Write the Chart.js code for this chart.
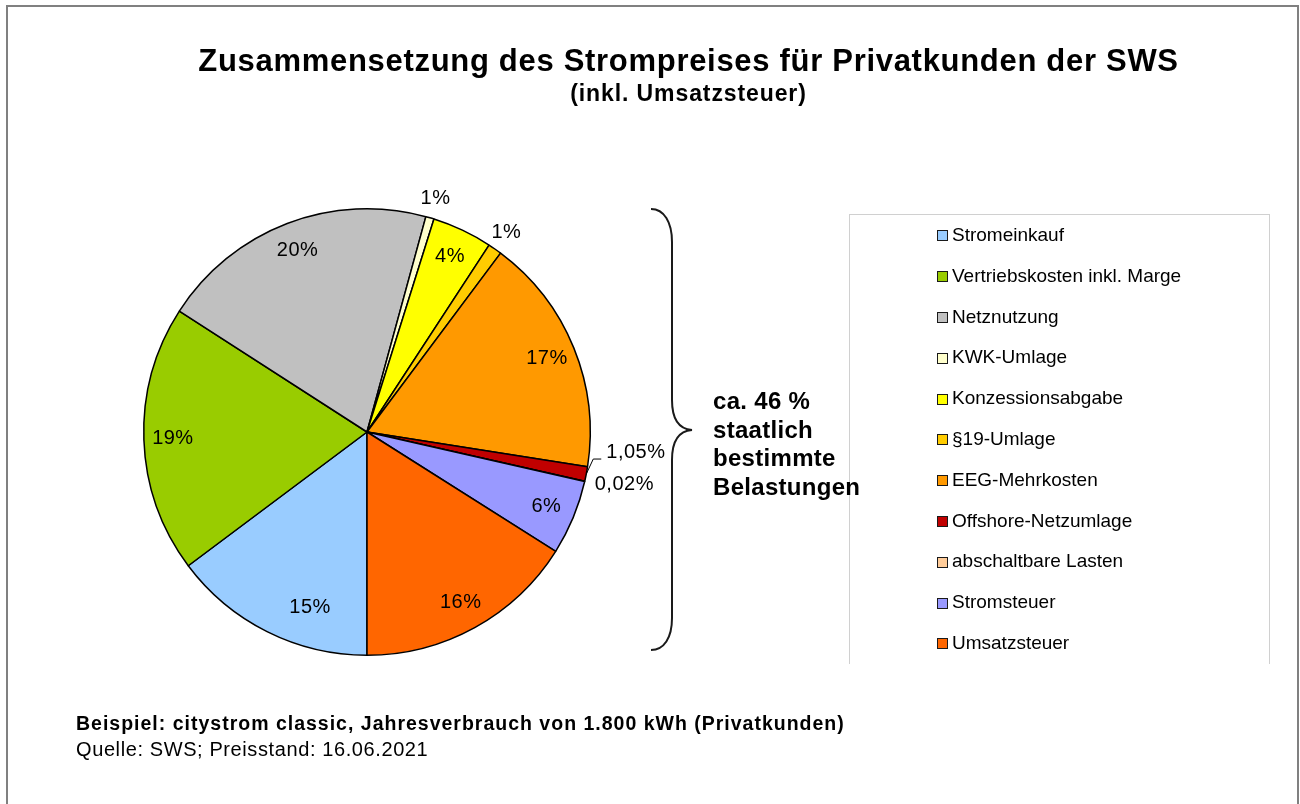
<!DOCTYPE html>
<html>
<head>
<meta charset="utf-8">
<title>Zusammensetzung des Strompreises</title>
<script src="https://cdn.jsdelivr.net/npm/chart.js@4.4.1/dist/chart.umd.min.js"></script>
<style>
  body { margin: 0; background: #fff; overflow: hidden; font-family: "Liberation Sans", Arial, sans-serif; color: #000; }
  #page { position: relative; width: 1300px; height: 804px; overflow: hidden; background: #fff; }
  #frame { position: absolute; left: 6px; top: 5px; width: 1293px; height: 900px; border: 2px solid #808080; border-bottom: none; box-sizing: border-box; }
  #canvas { position: absolute; left: 0; top: 0; }
  .txt { position: absolute; white-space: nowrap; line-height: 1; }
  #title { left: 0; width: 1377px; text-align: center; top: 45px; font-size: 31px; font-weight: bold; letter-spacing: 0.7px; }
  #subtitle { left: 0; width: 1377px; text-align: center; top: 81.5px; font-size: 23px; font-weight: bold; letter-spacing: 0.9px; }
  #note { left: 713px; top: 387px; font-size: 24px; line-height: 28.7px; font-weight: bold; letter-spacing: 0.3px; }
  #foot1 { left: 76px; top: 713.5px; font-size: 19.5px; font-weight: bold; letter-spacing: 1px; }
  #foot2 { left: 76px; top: 738.5px; font-size: 20px; letter-spacing: 0.6px; }
  #legendBox { position: absolute; left: 849px; top: 214px; width: 421px; height: 450px; border: 1.5px solid #d0d0d0; border-bottom: none; box-sizing: border-box; }
  #legend { position: absolute; left: 937px; top: 214.6px; margin: 0; padding: 0; list-style: none; }
  #legend li { height: 40.8px; display: flex; align-items: center; font-size: 19px; }
  #legend span.box { display: inline-block; width: 11px; height: 11px; border: 1.5px solid #1a1a1a; box-sizing: border-box; margin-right: 4px; position: relative; top: 1px; }
</style>
</head>
<body>
<div id="page">
  <div id="frame"></div>
  <canvas id="canvas" width="1300" height="804"></canvas>
  <div id="title" class="txt">Zusammensetzung des Strompreises für Privatkunden der SWS</div>
  <div id="subtitle" class="txt">(inkl. Umsatzsteuer)</div>
  <div id="legendBox"></div>
  <ul id="legend"></ul>
  <div id="note" class="txt">ca. 46 %<br>staatlich<br>bestimmte<br>Belastungen</div>
  <div id="foot1" class="txt">Beispiel: citystrom classic, Jahresverbrauch von 1.800 kWh (Privatkunden)</div>
  <div id="foot2" class="txt">Quelle: SWS; Preisstand: 16.06.2021</div>
</div>
<script>
  // price components, share of the gross price in %
  const categories = [
    'Stromeinkauf',
    'Vertriebskosten inkl. Marge',
    'Netznutzung',
    'KWK-Umlage',
    'Konzessionsabgabe',
    '§19-Umlage',
    'EEG-Mehrkosten',
    'Offshore-Netzumlage',
    'abschaltbare Lasten',
    'Stromsteuer',
    'Umsatzsteuer',
  ];
  const shares = [14.75, 19.3, 20.1, 0.6, 4.35, 1.0, 17.25, 1.05, 0.02, 5.4, 16.0];
  const shareLabels = ['15%', '19%', '20%', '1%', '4%', '1%', '17%', '1,05%', '0,02%', '6%', '16%'];
  const sliceColors = [
    '#99ccff', '#99cc00', '#c0c0c0', '#ffffcc', '#ffff00', '#ffcc00',
    '#ff9900', '#c00000', '#ffcc99', '#9999ff', '#ff6600',
  ];

  // html legend
  const legendEl = document.getElementById('legend');
  categories.forEach((name, i) => {
    const li = document.createElement('li');
    const box = document.createElement('span');
    box.className = 'box';
    box.style.background = sliceColors[i];
    li.appendChild(box);
    li.appendChild(document.createTextNode(name));
    legendEl.appendChild(li);
  });

  const sliceLabels = {
    id: 'sliceLabels',
    afterDatasetsDraw(chart, args, opts) {
      const ctx = chart.ctx;
      const arcs = chart.getDatasetMeta(0).data;
      ctx.save();
      ctx.font = opts.font;
      ctx.fillStyle = '#000';
      ctx.strokeStyle = '#000';
      if ('letterSpacing' in ctx) ctx.letterSpacing = opts.letterSpacing;
      arcs.forEach((arc, i) => {
        const p = arc.getProps(['x', 'y', 'startAngle', 'endAngle', 'outerRadius'], true);
        const mid = (p.startAngle + p.endAngle) / 2;
        const cos = Math.cos(mid), sin = Math.sin(mid);
        const R = p.outerRadius;
        const text = shareLabels[i];
        const mode = opts.placement[i];
        if (mode === 'in' || mode === 'out') {
          const r = mode === 'in' ? R * 0.87 : R + 20;
          const n = opts.nudge[i] || [0, 0];
          ctx.textAlign = 'center';
          ctx.textBaseline = 'middle';
          ctx.fillText(text, p.x + r * cos + n[0], p.y + r * sin + n[1]);
        } else if (mode === 'leader') {
          const ex = p.x + R * cos, ey = p.y + R * sin;
          ctx.beginPath();
          ctx.moveTo(ex, ey);
          ctx.lineTo(ex + 7, ey - 15);
          ctx.lineTo(ex + 15, ey - 15);
          ctx.lineWidth = 1;
          ctx.stroke();
          ctx.textAlign = 'left';
          ctx.textBaseline = 'middle';
          ctx.fillText(text, ex + 20, ey - 22);
        } else if (mode === 'beside') {
          ctx.textAlign = 'left';
          ctx.textBaseline = 'middle';
          ctx.fillText(text, p.x + R * cos + 10, p.y + R * sin + 3);
        }
      });
      ctx.restore();
    },
  };

  // curly brace next to the pie
  const brace = {
    id: 'brace',
    afterDraw(chart) {
      const ctx = chart.ctx;
      ctx.save();
      ctx.strokeStyle = '#1a1a1a';
      ctx.lineWidth = 2;
      ctx.beginPath();
      ctx.moveTo(651, 209);
      ctx.bezierCurveTo(664, 209, 672, 222, 672, 242);
      ctx.lineTo(672, 400);
      ctx.bezierCurveTo(672, 418, 678, 429, 692, 430);
      ctx.bezierCurveTo(678, 431, 672, 442, 672, 460);
      ctx.lineTo(672, 618);
      ctx.bezierCurveTo(672, 638, 664, 650, 651, 650);
      ctx.stroke();
      ctx.restore();
    },
  };

  const chart = new Chart(document.getElementById('canvas'), {
    type: 'pie',
    data: {
      labels: categories,
      datasets: [{
        data: shares,
        backgroundColor: sliceColors,
        borderColor: '#000',
        borderWidth: 1.5,
        hoverOffset: 0,
      }],
    },
    options: {
      responsive: false,
      animation: false,
      devicePixelRatio: 1,
      rotation: 180, // first slice starts at 6 o'clock
      layout: { padding: { left: 143, top: 208, right: 709, bottom: 148 } },
      events: [],
      plugins: {
        legend: { display: false },
        tooltip: { enabled: false },
        sliceLabels: {
          font: '20px "Liberation Sans", Arial, sans-serif',
          letterSpacing: '0.5px',
          placement: ['in', 'in', 'in', 'out', 'in', 'out', 'in', 'leader', 'beside', 'in', 'in'],
          nudge: { 0: [30, 2] },
        },
      },
    },
    plugins: [sliceLabels, brace],
  });
</script>
</body>
</html>
